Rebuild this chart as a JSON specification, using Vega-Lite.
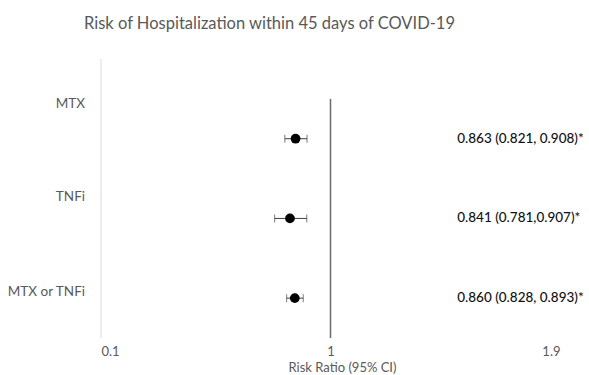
{
  "$schema": "https://vega.github.io/schema/vega-lite/v6.json",
  "width": 459,
  "height": 279,
  "autosize": "none",
  "padding": {"left": 101, "top": 59, "right": 29, "bottom": 37},
  "background": "white",
  "config": {"view": {"stroke": null}, "font": "Lato"},
  "title": {
    "text": "Risk of Hospitalization within 45 days of COVID-19",
    "fontSize": 16.5,
    "fontWeight": "normal",
    "color": "#595959",
    "font": "Lato",
    "anchor": "middle",
    "dx": -61,
    "offset": 26
  },
  "data": {
    "values": [
      {"group": "MTX", "rr": 0.863, "lo": 0.821, "hi": 0.908, "ypos": 2.5, "labelY": 2.94, "text": "0.863 (0.821, 0.908)*"},
      {"group": "TNFi", "rr": 0.841, "lo": 0.781, "hi": 0.907, "ypos": 1.5, "labelY": 1.77, "text": "0.841 (0.781,0.907)*"},
      {"group": "MTX or TNFi", "rr": 0.86, "lo": 0.828, "hi": 0.893, "ypos": 0.5, "labelY": 0.58, "text": "0.860 (0.828, 0.893)*"}
    ]
  },
  "layer": [
    {
      "data": {"values": [{"x": 0.1, "y0": 0, "y1": 3.5}]},
      "mark": {"type": "rule", "color": "#d9d9d9", "strokeWidth": 1},
      "encoding": {
        "x": {"field": "x", "type": "quantitative", "scale": {"domain": [0.1, 1.9], "nice": false, "zero": false},
          "axis": {"values": [0.1, 1, 1.9], "format": ".1~f", "title": "Risk Ratio (95% CI)", "grid": false, "domain": false, "ticks": false,
            "labelFontSize": 13, "labelColor": "#595959", "labelPadding": 7, "labelFont": "Lato",
            "titleFontSize": 13, "titleFontWeight": "normal", "titleColor": "#595959", "titleFont": "Lato",
            "titleX": 241, "titleY": 33, "titleBaseline": "alphabetic"}},
        "y": {"field": "y0", "type": "quantitative", "scale": {"domain": [0, 3.5], "nice": false}, "axis": null},
        "y2": {"field": "y1"}
      }
    },
    {
      "data": {"values": [{"x": 1, "y0": 0, "y1": 3}]},
      "mark": {"type": "rule", "color": "#6b6b6b", "strokeWidth": 1.5},
      "encoding": {
        "x": {"field": "x", "type": "quantitative"},
        "y": {"field": "y0", "type": "quantitative"},
        "y2": {"field": "y1"}
      }
    },
    {
      "mark": {"type": "rule", "color": "#404040", "strokeWidth": 1},
      "encoding": {
        "x": {"field": "lo", "type": "quantitative"},
        "x2": {"field": "hi"},
        "y": {"field": "ypos", "type": "quantitative"}
      }
    },
    {
      "mark": {"type": "tick", "orient": "vertical", "size": 8, "thickness": 1, "color": "#404040"},
      "encoding": {
        "x": {"field": "lo", "type": "quantitative"},
        "y": {"field": "ypos", "type": "quantitative"}
      }
    },
    {
      "mark": {"type": "tick", "orient": "vertical", "size": 8, "thickness": 1, "color": "#404040"},
      "encoding": {
        "x": {"field": "hi", "type": "quantitative"},
        "y": {"field": "ypos", "type": "quantitative"}
      }
    },
    {
      "mark": {"type": "circle", "color": "black", "opacity": 1, "size": 95},
      "encoding": {
        "x": {"field": "rr", "type": "quantitative"},
        "y": {"field": "ypos", "type": "quantitative"}
      }
    },
    {
      "mark": {"type": "text", "align": "right", "baseline": "middle", "dx": -16, "fontSize": 13.5, "color": "#595959", "font": "Lato"},
      "encoding": {
        "x": {"datum": 0.1, "type": "quantitative"},
        "y": {"field": "labelY", "type": "quantitative"},
        "text": {"field": "group"}
      }
    },
    {
      "mark": {"type": "text", "align": "left", "baseline": "middle", "fontSize": 13.5, "fontWeight": 500, "color": "#111111", "font": "Lato"},
      "encoding": {
        "x": {"datum": 1.497, "type": "quantitative"},
        "y": {"field": "ypos", "type": "quantitative"},
        "text": {"field": "text"}
      }
    }
  ]
}
